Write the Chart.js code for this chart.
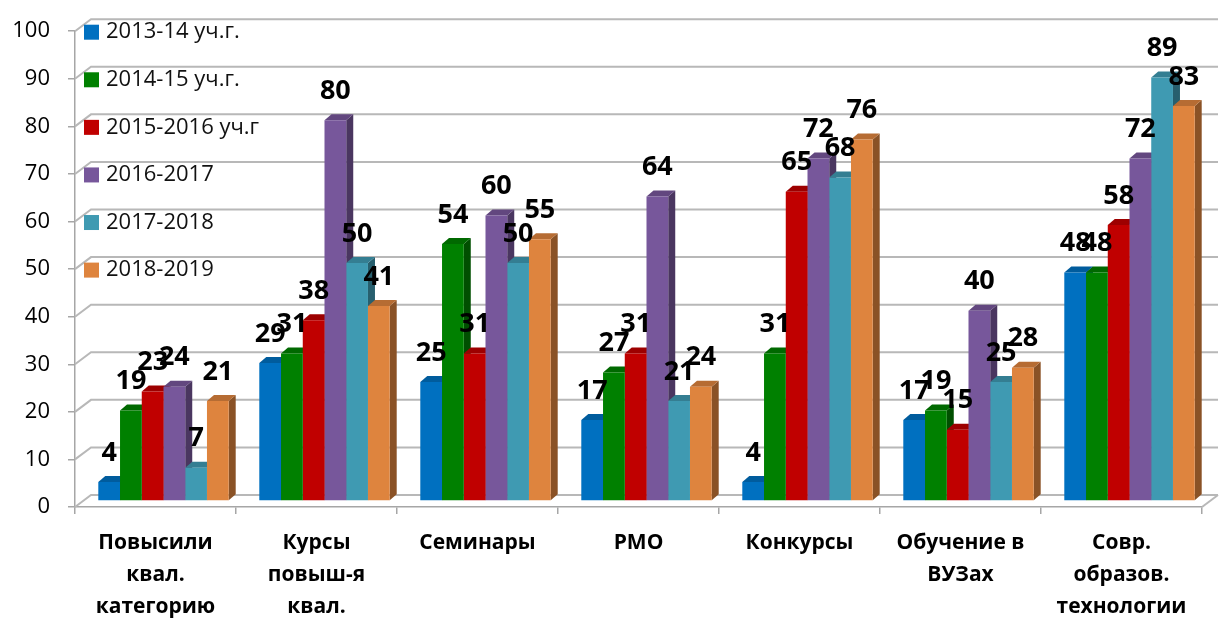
<!DOCTYPE html>
<html>
<head>
<meta charset="utf-8">
<script src="https://cdn.jsdelivr.net/npm/chart.js@4/dist/chart.umd.min.js"></script>
<style>
html,body{margin:0;padding:0;background:#fff;}
#wrap{width:1221px;height:618px;}
</style>
</head>
<body>
<div id="wrap"><canvas id="c" width="1221" height="618"></canvas></div>
<script>
const categories = [
  ['Повысили','квал.','категорию'],
  ['Курсы','повыш-я','квал.'],
  ['Семинары'],
  ['РМО'],
  ['Конкурсы'],
  ['Обучение в','ВУЗах'],
  ['Совр.','образов.','технологии']
];
const seriesLabels = ['2013-14 уч.г.','2014-15 уч.г.','2015-2016 уч.г','2016-2017','2017-2018','2018-2019'];
const s2013 = [4, 29, 25, 17, 4, 17, 48];
const s2014 = [19, 31, 54, 27, 31, 19, 48];
const s2015 = [23, 38, 31, 31, 65, 15, 58];
const s2016 = [24, 80, 60, 64, 72, 40, 72];
const s2017 = [7, 50, 50, 21, 68, 25, 89];
const s2018 = [21, 41, 55, 24, 76, 28, 83];
const seriesColors = ['#0070C0','#008000','#C00000','#77579B','#3F9AB2','#DE843E'];
const seriesValues = [s2013, s2014, s2015, s2016, s2017, s2018];

const WALL = {dx:16, dy:12};
const BAR = {dx:7, dy:6};
const FONT = '"Open Sans", "Noto Sans", sans-serif';

function shade(hex, f){
  const n = parseInt(hex.slice(1),16);
  const r = Math.round(((n>>16)&255)*f), g = Math.round(((n>>8)&255)*f), b = Math.round((n&255)*f);
  return `rgb(${r},${g},${b})`;
}

const threeD = {
  id:'threeD',
  beforeDatasetsDraw(chart){
    const {ctx, chartArea:a, scales:{y}} = chart;
    ctx.save();
    ctx.strokeStyle = '#B8B8B8';
    ctx.lineWidth = 2;
    y.ticks.forEach(t => {
      const py = y.getPixelForValue(t.value);
      ctx.beginPath();
      ctx.moveTo(a.left, py);
      ctx.lineTo(a.left + WALL.dx, py - WALL.dy);
      ctx.lineTo(a.right + WALL.dx, py - WALL.dy);
      ctx.stroke();
    });
    ctx.beginPath();
    ctx.moveTo(a.right, a.bottom);
    ctx.lineTo(a.right + WALL.dx, a.bottom - WALL.dy);
    ctx.stroke();
    ctx.restore();

    ctx.save();
    ctx.translate(WALL.dx/2, -WALL.dy/2);
    chart.data.datasets.forEach((ds, i) => {
      const meta = chart.getDatasetMeta(i);
      meta.data.forEach(el => {
        const p = el.getProps(['x','y','base','width'], true);
        const l = p.x - p.width/2, r = p.x + p.width/2, top = p.y, base = p.base;
        ctx.fillStyle = shade(ds.backgroundColor, 0.62);
        ctx.beginPath();
        ctx.moveTo(r, top); ctx.lineTo(r + BAR.dx, top - BAR.dy);
        ctx.lineTo(r + BAR.dx, base - BAR.dy); ctx.lineTo(r, base);
        ctx.closePath(); ctx.fill();
        ctx.fillStyle = shade(ds.backgroundColor, 0.82);
        ctx.beginPath();
        ctx.moveTo(l, top); ctx.lineTo(l + BAR.dx, top - BAR.dy);
        ctx.lineTo(r + BAR.dx, top - BAR.dy); ctx.lineTo(r, top);
        ctx.closePath(); ctx.fill();
      });
    });
  },
  afterDatasetsDraw(chart){
    const {ctx} = chart;
    ctx.restore();
    ctx.save();
    ctx.fillStyle = '#000';
    ctx.font = 'bold 27px ' + FONT;
    ctx.textAlign = 'center';
    ctx.textBaseline = 'middle';
    chart.data.datasets.forEach((ds, i) => {
      const meta = chart.getDatasetMeta(i);
      meta.data.forEach((el, j) => {
        const p = el.getProps(['x','y'], true);
        ctx.fillText(String(ds.data[j]), p.x + WALL.dx/2, p.y - WALL.dy/2 - 29);
      });
    });
    ctx.restore();
  },
  afterDraw(chart){
    const {ctx, chartArea:a, scales:{y}} = chart;
    ctx.save();
    ctx.font = '22px ' + FONT;
    ctx.textBaseline = 'middle';
    ctx.textAlign = 'left';
    chart.data.datasets.forEach((ds, i) => {
      const py = y.getPixelForValue(100 - 10*i) + 1;
      ctx.fillStyle = ds.backgroundColor;
      ctx.fillRect(a.left + 9, py - 7.5, 15, 15);
      ctx.fillStyle = '#111';
      ctx.fillText(ds.label, a.left + 31, py);
    });
    ctx.restore();
  }
};

new Chart(document.getElementById('c'), {
  type:'bar',
  data:{
    labels: categories,
    datasets: seriesValues.map((vals, i) => ({
      label: seriesLabels[i],
      data: vals,
      backgroundColor: seriesColors[i],
      borderWidth: 0,
      categoryPercentage: 0.81,
      barPercentage: 1.0,
      clip: false
    }))
  },
  options:{
    responsive:false,
    animation:false,
    layout:{padding:{top:28, right:19, left:0, bottom:0}},
    plugins:{legend:{display:false}, tooltip:{enabled:false}},
    scales:{
      x:{
        grid:{drawOnChartArea:false, drawTicks:true, tickLength:7, color:'#A6A6A6', lineWidth:1.5},
        border:{display:true, color:'#A6A6A6', width:1.5},
        ticks:{color:'#000', padding:13, maxRotation:0, autoSkip:false,
               font:{family:FONT, size:21, weight:'bold', lineHeight:32/21}},
        afterFit(s){ s.height = 111; }
      },
      y:{
        min:0, max:100,
        grid:{drawOnChartArea:false, drawTicks:true, tickLength:7, color:'#A6A6A6', lineWidth:1.5},
        border:{display:true, color:'#A6A6A6', width:1.5},
        ticks:{stepSize:10, color:'#000', padding:18, font:{family:FONT, size:22}},
        afterFit(s){ s.width = 75; }
      }
    }
  },
  plugins:[threeD]
});
</script>
</body>
</html>
